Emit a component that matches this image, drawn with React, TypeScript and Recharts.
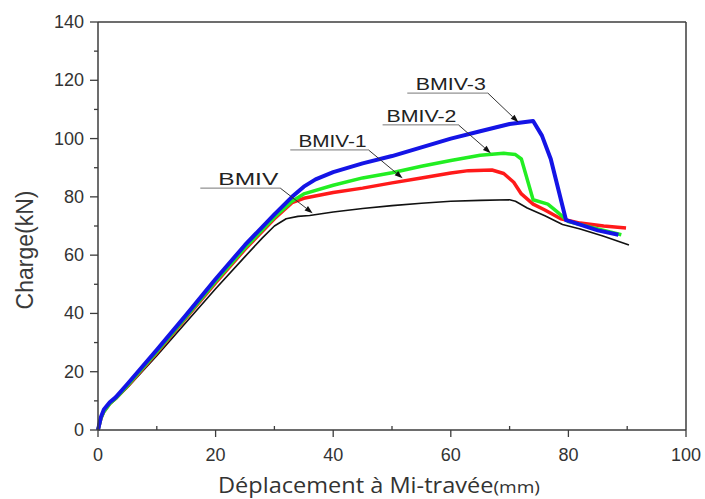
import {
  LineChart,
  Line,
  XAxis,
  YAxis,
  ReferenceLine,
} from 'recharts'

// Déplacement (mm) / charge (kN)
const bmivX = [0, 0.5, 1, 2, 3, 5, 10, 15, 20, 25, 28, 30, 32, 34, 36, 40, 45, 50, 55, 60, 65, 70, 71, 73, 76, 79, 82, 86, 90.3]
const bmivY = [0, 3.5, 6, 9, 10.5, 14.5, 25.5, 37, 48.5, 59.5, 66, 70, 72.5, 73.3, 73.6, 74.8, 76, 77, 77.8, 78.5, 78.8, 79, 78.5, 76.2, 73.5, 70.5, 69, 66.5, 63.5]

const bmiv1X = [0, 0.5, 1, 2, 3, 5, 10, 15, 20, 25, 30, 33, 35, 40, 45, 50, 55, 60, 63, 67, 69, 70.7, 72, 74, 76, 78.7, 82, 86, 89.8]
const bmiv1Y = [0, 4, 6.3, 9, 10.8, 15, 26.5, 38.5, 50.5, 62, 72.5, 78, 79.5, 81.5, 83, 84.8, 86.5, 88.2, 89, 89.2, 88, 85, 81, 77.5, 75.5, 72.5, 71, 70, 69.3]

const bmiv2X = [0, 0.5, 1, 2, 3, 5, 10, 15, 20, 25, 30, 33, 35, 40, 45, 50, 55, 60, 65, 69, 71, 72, 74, 76.5, 78, 80, 85, 89]
const bmiv2Y = [0, 4, 6.3, 9, 10.8, 15.2, 26.8, 38.8, 51, 62.5, 73, 78.5, 81, 84, 86.5, 88.3, 90.5, 92.5, 94.3, 95, 94.5, 93, 79, 77.5, 75, 71.5, 69, 67]

const bmiv3X = [0, 0.5, 1, 2, 3, 5, 10, 15, 20, 25, 30, 33, 35, 37, 40, 45, 50, 55, 60, 65, 70, 72, 74, 75.5, 77, 79.6, 82, 85, 88.5]
const bmiv3Y = [0, 4.5, 7, 9.5, 11.2, 15.8, 27.5, 39.5, 51.8, 63.5, 74, 80, 83.5, 86, 88.5, 91.5, 94, 97, 100, 102.5, 105, 105.5, 106, 101, 93, 72, 70.5, 68.5, 67]

const xTicks = [0, 10, 20, 30, 40, 50, 60, 70, 80, 90, 100]
const yTicks = [0, 10, 20, 30, 40, 50, 60, 70, 80, 90, 100, 110, 120, 130, 140]

// label, underline start/end (x), underline y, arrow tip (x, y)
const notes = [
  { label: 'BMIV', from: 17.4, to: 31.0, y: 83.0, tipX: 36.5, tipY: 74.4, len: 60 },
  { label: 'BMIV-1', from: 32.7, to: 46.0, y: 96.1, tipX: 51.8, tipY: 86.4, len: 68 },
  { label: 'BMIV-2', from: 48.4, to: 61.3, y: 104.7, tipX: 66.8, tipY: 95.0, len: 70 },
  { label: 'BMIV-3', from: 52.6, to: 66.3, y: 115.6, tipX: 71.5, tipY: 105.6, len: 70 },
]

const toPoints = (xs: number[], ys: number[]) => xs.map((x, i) => ({ x, y: ys[i] }))

const series = [
  { name: 'BMIV', data: toPoints(bmivX, bmivY), color: '#111111', width: 1.6 },
  { name: 'BMIV-1', data: toPoints(bmiv1X, bmiv1Y), color: '#ff1a1a', width: 3.5 },
  { name: 'BMIV-2', data: toPoints(bmiv2X, bmiv2Y), color: '#22ee22', width: 3.5 },
  { name: 'BMIV-3', data: toPoints(bmiv3X, bmiv3Y), color: '#1414e6', width: 4 },
]

const AXIS = '#3c3c3c'
const TICK_FONT = '"Liberation Sans", Arial, sans-serif'

function XTick({ x, y, payload }: any) {
  const major = payload.value % 20 === 0
  return (
    <g>
      <line x1={x} y1={y} x2={x} y2={major ? y + 7 : y - 4} stroke={AXIS} strokeWidth={1.3} />
      {major && (
        <text x={x} y={y + 31} textAnchor="middle" fontSize={18} fontFamily={TICK_FONT} fill="#333">
          {payload.value}
        </text>
      )}
    </g>
  )
}

function YTick({ x, y, payload }: any) {
  const major = payload.value % 20 === 0
  return (
    <g>
      <line x1={x} y1={y} x2={x - (major ? 8 : 4)} y2={y} stroke={AXIS} strokeWidth={1.3} />
      {major && (
        <text x={x - 14} y={y + 6} textAnchor="end" fontSize={18} fontFamily={TICK_FONT} fill="#333">
          {payload.value}
        </text>
      )}
    </g>
  )
}

const underlineShape = (label: string, len: number) => (props: any) => {
  const { x1, y1, x2, y2 } = props
  return (
    <g>
      <line x1={x1} y1={y1} x2={x2} y2={y2} stroke="#777" strokeWidth={1} />
      <text
        x={x2 - 2 - len}
        y={y1 - 3}
        textLength={len}
        lengthAdjust="spacingAndGlyphs"
        fontSize={17}
        fontFamily={TICK_FONT}
        fill="#222"
      >
        {label}
      </text>
    </g>
  )
}

const leaderShape = (props: any) => {
  const { x1, y1, x2, y2 } = props
  const dx = x2 - x1
  const dy = y2 - y1
  const d = Math.sqrt(dx * dx + dy * dy) || 1
  const ux = dx / d
  const uy = dy / d
  const bx = x2 - ux * 8
  const by = y2 - uy * 8
  return (
    <g>
      <line x1={x1} y1={y1} x2={bx} y2={by} stroke="#333" strokeWidth={1} />
      <polygon
        points={`${x2},${y2} ${bx - uy * 2.8},${by + ux * 2.8} ${bx + uy * 2.8},${by - ux * 2.8}`}
        fill="#111"
      />
    </g>
  )
}

export default function App() {
  return (
    <div style={{ position: 'absolute', left: 0, top: 0, background: '#fff' }}>
      <LineChart width={705} height={499} margin={{ top: 22, right: 19, bottom: 0, left: 0 }}>
        <XAxis
          type="number"
          dataKey="x"
          domain={[0, 100]}
          ticks={xTicks}
          interval={0}
          tickSize={0}
          tickMargin={0}
          tickLine={false}
          tick={<XTick />}
          height={69}
          stroke={AXIS}
          strokeWidth={1.5}
          label={() => (
            <text x={218} y={493} textLength={322} lengthAdjust="spacingAndGlyphs" fontFamily='"Open Sans", "Noto Sans", sans-serif' fontSize={21} fill="#333">
              Déplacement à Mi-travée<tspan fontSize={17}>(mm)</tspan>
            </text>
          )}
        />
        <YAxis
          type="number"
          dataKey="y"
          domain={[0, 140]}
          ticks={yTicks}
          interval={0}
          tickSize={0}
          tickMargin={0}
          tickLine={false}
          tick={<YTick />}
          width={98}
          stroke={AXIS}
          strokeWidth={1.5}
          label={() => (
            <text x={33} y={250} transform="rotate(-90 33 250)" textAnchor="middle" fontFamily={TICK_FONT} fontSize={23} fill="#3a3a3a">
              Charge(kN)
            </text>
          )}
        />
        <ReferenceLine y={140} stroke={AXIS} strokeWidth={1.5} />
        <ReferenceLine x={100} stroke={AXIS} strokeWidth={1.5} />
        {series.map((s) => (
          <Line
            key={s.name}
            data={s.data}
            dataKey="y"
            name={s.name}
            type="linear"
            stroke={s.color}
            strokeWidth={s.width}
            strokeLinejoin="round"
            dot={false}
            activeDot={false}
            isAnimationActive={false}
          />
        ))}
        {notes.map((n) => (
          <ReferenceLine
            key={n.label + '-u'}
            segment={[{ x: n.from, y: n.y }, { x: n.to, y: n.y }]}
            shape={underlineShape(n.label, n.len)}
          />
        ))}
        {notes.map((n) => (
          <ReferenceLine
            key={n.label + '-l'}
            segment={[{ x: n.to, y: n.y }, { x: n.tipX, y: n.tipY }]}
            shape={leaderShape}
          />
        ))}
      </LineChart>
    </div>
  )
}
